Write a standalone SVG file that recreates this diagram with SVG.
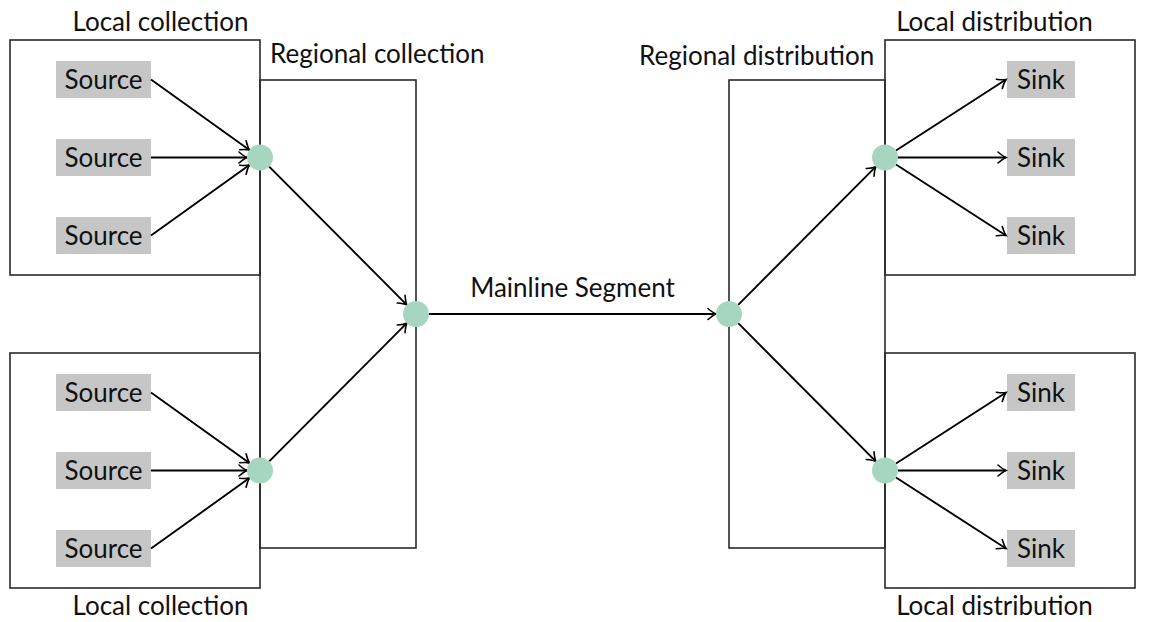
<svg xmlns="http://www.w3.org/2000/svg" width="1156" height="622" viewBox="0 0 1156 622">
<defs>
<marker id="arr" markerUnits="userSpaceOnUse" markerWidth="20" markerHeight="20" refX="0" refY="0" viewBox="-10 -10 20 20" orient="auto" overflow="visible">
<path d="M-8,-5.5 Q-3,-1.2 0,0 Q-3,1.2 -8,5.5" fill="none" stroke="#000" stroke-width="1.6" stroke-linecap="round"/>
</marker>
</defs>
<style>
.box{fill:none;stroke:#2a2a2a;stroke-width:1.6}
.node{fill:#c6c6c6}
.t{font-family:Lato,"DejaVu Sans",sans-serif;font-size:26px;fill:#111}
.c{text-anchor:middle}
.hub{fill:#a6d6bf}
.edge{stroke:#000;stroke-width:1.9;fill:none;marker-end:url(#arr)}
</style>
<rect width="1156" height="622" fill="#fff"/>
<g id="regional-collection"><rect class="box" x="260" y="80" width="156" height="468"/><text class="t" x="270" y="63">Regional collection</text></g>
<g id="regional-distribution"><rect class="box" x="729" y="80" width="156" height="468"/><text class="t" x="639" y="65">Regional distribution</text></g>
<g id="local-collection-1"><rect class="box" x="10" y="40" width="250" height="235"/><text class="t c" x="160.5" y="31">Local collection</text></g>
<g id="local-collection-2"><rect class="box" x="10" y="353" width="250" height="235"/><text class="t c" x="160.5" y="615">Local collection</text></g>
<g id="local-distribution-1"><rect class="box" x="885" y="40" width="250" height="235"/><text class="t c" x="994.5" y="31">Local distribution</text></g>
<g id="local-distribution-2"><rect class="box" x="885" y="353" width="250" height="235"/><text class="t c" x="994.5" y="615">Local distribution</text></g>
<g id="source-1"><rect class="node" x="56" y="61" width="95" height="37"/><text class="t c" x="103.5" y="89">Source</text></g>
<g id="source-2"><rect class="node" x="56" y="139" width="95" height="37"/><text class="t c" x="103.5" y="167">Source</text></g>
<g id="source-3"><rect class="node" x="56" y="217" width="95" height="37"/><text class="t c" x="103.5" y="245">Source</text></g>
<g id="source-4"><rect class="node" x="56" y="374" width="95" height="37"/><text class="t c" x="103.5" y="402">Source</text></g>
<g id="source-5"><rect class="node" x="56" y="452" width="95" height="37"/><text class="t c" x="103.5" y="480">Source</text></g>
<g id="source-6"><rect class="node" x="56" y="530" width="95" height="37"/><text class="t c" x="103.5" y="558">Source</text></g>
<g id="sink-1"><rect class="node" x="1007" y="61" width="68" height="37"/><text class="t c" x="1041" y="89">Sink</text></g>
<g id="sink-2"><rect class="node" x="1007" y="139" width="68" height="37"/><text class="t c" x="1041" y="167">Sink</text></g>
<g id="sink-3"><rect class="node" x="1007" y="217" width="68" height="37"/><text class="t c" x="1041" y="245">Sink</text></g>
<g id="sink-4"><rect class="node" x="1007" y="374" width="68" height="37"/><text class="t c" x="1041" y="402">Sink</text></g>
<g id="sink-5"><rect class="node" x="1007" y="452" width="68" height="37"/><text class="t c" x="1041" y="480">Sink</text></g>
<g id="sink-6"><rect class="node" x="1007" y="530" width="68" height="37"/><text class="t c" x="1041" y="558">Sink</text></g>
<g id="connectors">
<line class="edge" x1="151" y1="79.5" x2="249.4" y2="149.9"/>
<line class="edge" x1="151" y1="157.5" x2="247" y2="157.5"/>
<line class="edge" x1="151" y1="235.5" x2="249.4" y2="165.1"/>
<line class="edge" x1="151" y1="392.5" x2="249.4" y2="462.9"/>
<line class="edge" x1="151" y1="470.5" x2="247" y2="470.5"/>
<line class="edge" x1="151" y1="548.5" x2="249.4" y2="478.1"/>
<line class="edge" x1="269.2" y1="166.7" x2="406.8" y2="304.8"/>
<line class="edge" x1="269.2" y1="461.3" x2="406.8" y2="323.2"/>
<line class="edge" x1="429" y1="314" x2="716" y2="314"/>
<line class="edge" x1="738.2" y1="304.8" x2="875.8" y2="166.7"/>
<line class="edge" x1="738.2" y1="323.2" x2="875.8" y2="461.3"/>
<line class="edge" x1="896" y1="150.5" x2="1006" y2="79.5"/>
<line class="edge" x1="898" y1="157.5" x2="1006" y2="157.5"/>
<line class="edge" x1="896" y1="164.5" x2="1006" y2="235.5"/>
<line class="edge" x1="896" y1="463.5" x2="1006" y2="392.5"/>
<line class="edge" x1="898" y1="470.5" x2="1006" y2="470.5"/>
<line class="edge" x1="896" y1="477.5" x2="1006" y2="548.5"/>
<text class="t c" x="572.5" y="297">Mainline Segment</text>
</g>
<g id="hubs">
<circle class="hub" cx="260" cy="157.5" r="13"/>
<circle class="hub" cx="260" cy="470.5" r="13"/>
<circle class="hub" cx="416" cy="314" r="13"/>
<circle class="hub" cx="729" cy="314" r="13"/>
<circle class="hub" cx="885" cy="157.5" r="13"/>
<circle class="hub" cx="885" cy="470.5" r="13"/>
</g>
</svg>
